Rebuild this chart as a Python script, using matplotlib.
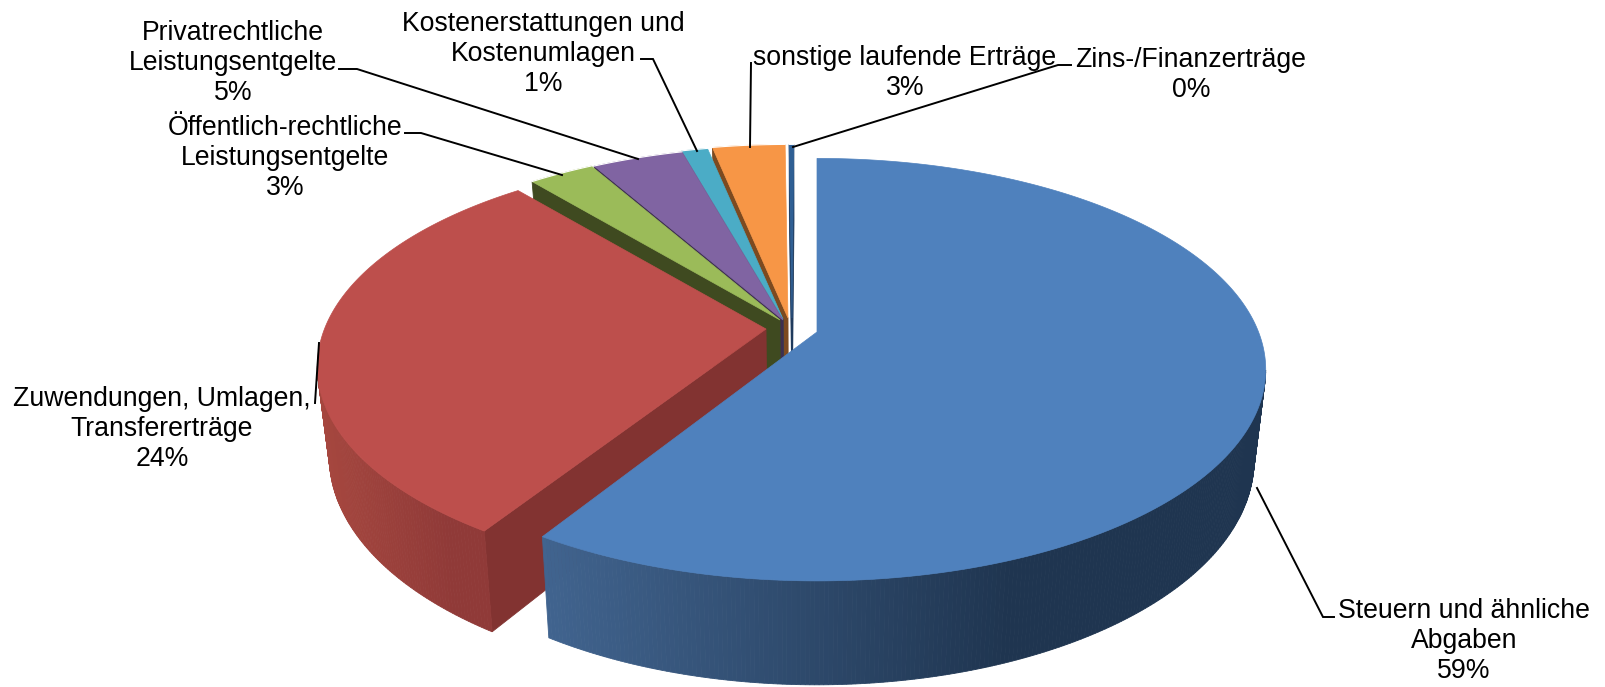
#!/usr/bin/env python3

import numpy as np
import matplotlib
matplotlib.use("Agg")
import matplotlib.pyplot as plt
from matplotlib.colors import to_rgb

# shares, printed labels differ slightly
CATEGORIES = [
    "Steuern und ähnliche\nAbgaben",
    "Zuwendungen, Umlagen,\nTransfererträge",
    "Öffentlich-rechtliche\nLeistungsentgelte",
    "Privatrechtliche\nLeistungsentgelte",
    "Kostenerstattungen und\nKostenumlagen",
    "sonstige laufende Erträge",
    "Zins-/Finanzerträge",
]
SHARES = [58.85, 29.85, 2.8, 3.9, 1.1, 3.1, 0.2]
PERCENT_LABELS = ["59%", "24%", "3%", "5%", "1%", "3%", "0%"]

TOP_COLORS = ["#4f81bd", "#bd4f4c", "#9bbb59", "#8064a2", "#4bacc6", "#f79646", "#2f5f94"]
WALL_COLORS = ["#1f3550", "#823331", "#3f4a20", "#3d2f50", "#1f4c5c", "#7c4a20", "#1f3a5c"]
RIM_LEFT_COLORS = ["#41648f", "#a6473f", "#3f4a20", "#3d2f50", "#1f4c5c", "#7c4a20", "#1f3a5c"]
RIM_RIGHT_COLORS = ["#1f3550", "#903a38", "#3f4a20", "#3d2f50", "#1f4c5c", "#7c4a20", "#1f3a5c"]

# image position of each slice tip (exploded pie)
APEX_X = [817, 766, 780, 783, 783, 788, 792]
APEX_Y = [332, 329, 320, 320, 319, 318, 318]
# degrees left open before a slice, the red one sits a little off the blue one
START_GAP = [0, 1.0, 0, 0, 0, 0, 0]

LABEL_X = [1464, 162, 285, 233, 543, 905, 1191]
LABEL_Y = [641, 429, 158, 63, 54, 73, 75]
LEADERS = [
    [(1257, 488), (1323, 617), (1334, 617)],
    [(319, 343), (315, 403)],
    [(562, 175), (421, 133), (405, 133)],
    [(638, 159), (357, 69), (339, 69)],
    [(697, 151), (653, 59), (641, 59)],
    [(750, 147), (751, 63)],
    [(793, 147), (1058, 65), (1071, 65)],
]

RADIUS = 0.99
SCALE_X = 446
SCALE_Y = 206.6
PERSPECTIVE = 0.18


def project(angle_deg, radius):
    # clockwise from the top, disc seen with the near side enlarged
    theta = np.radians(angle_deg)
    disc_x = radius * np.sin(theta)
    disc_y = -radius * np.cos(theta)
    w = 1 - PERSPECTIVE * disc_y
    return SCALE_X * disc_x / w, SCALE_Y * disc_y / w


def lower(x, y):
    return 800 + 0.975 * (x - 800), y + 88 + 0.064 * (y - 332)


def draw_slice(ax, idx, start, end):
    angles = np.linspace(start, end, max(int((end - start) * 2), 4))
    rim_x, rim_y = project(angles, RADIUS)
    rim_x = rim_x + APEX_X[idx]
    rim_y = rim_y + APEX_Y[idx]
    xs = np.concatenate([[APEX_X[idx]], rim_x])
    ys = np.concatenate([[APEX_Y[idx]], rim_y])

    left = np.array(to_rgb(RIM_LEFT_COLORS[idx]))
    right = np.array(to_rgb(RIM_RIGHT_COLORS[idx]))
    count = len(xs)
    for i in range(count):
        j = (i + 1) % count
        # edges run clockwise on screen, only the ones facing down are seen
        if xs[j] - xs[i] >= 0:
            continue
        bx0, by0 = lower(xs[i], ys[i])
        bx1, by1 = lower(xs[j], ys[j])
        if i == 0 or j == 0:
            color = WALL_COLORS[idx]
        else:
            pos = (rim_x[i - 1] - rim_x.min()) / (rim_x.max() - rim_x.min())
            # shading reaches its darkest well before the right end
            pos = min(pos / 0.65, 1)
            color = tuple(left + (right - left) * pos)
        ax.fill(
            [xs[i], xs[j], bx1, bx0], [ys[i], ys[j], by1, by0],
            facecolor=color, edgecolor=color, linewidth=0.6, zorder=2 + (6 - idx) * 2,
        )

    ax.fill(xs, ys, facecolor=TOP_COLORS[idx], edgecolor=TOP_COLORS[idx], linewidth=0.5, zorder=3 + (6 - idx) * 2)
    if idx >= 2:
        ax.plot(rim_x, rim_y, color="white", linewidth=0.8, zorder=3 + (6 - idx) * 2)


def main():
    plt.rcParams["font.family"] = ["Liberation Sans", "DejaVu Sans"]
    fig = plt.figure(figsize=(16.06, 6.87), dpi=100)
    ax = fig.add_axes([0, 0, 1, 1])
    ax.set_xlim(0, 1606)
    ax.set_ylim(687, 0)
    ax.axis("off")

    start = 0.0
    for idx, share in enumerate(SHARES):
        start += START_GAP[idx]
        end = start + share * 3.6
        draw_slice(ax, idx, start, end)
        start = end

    for idx, points in enumerate(LEADERS):
        ax.plot(*zip(*points), color="black", linewidth=1.4, zorder=20, solid_joinstyle="miter")
        ax.text(
            LABEL_X[idx], LABEL_Y[idx], f"{CATEGORIES[idx]}\n{PERCENT_LABELS[idx]}",
            ha="center", va="center", ma="center", fontsize=19.2, linespacing=1.22,
            color="black", zorder=21,
        )

    fig.savefig("out.png", dpi=100)
    plt.close(fig)


if __name__ == "__main__":
    main()
